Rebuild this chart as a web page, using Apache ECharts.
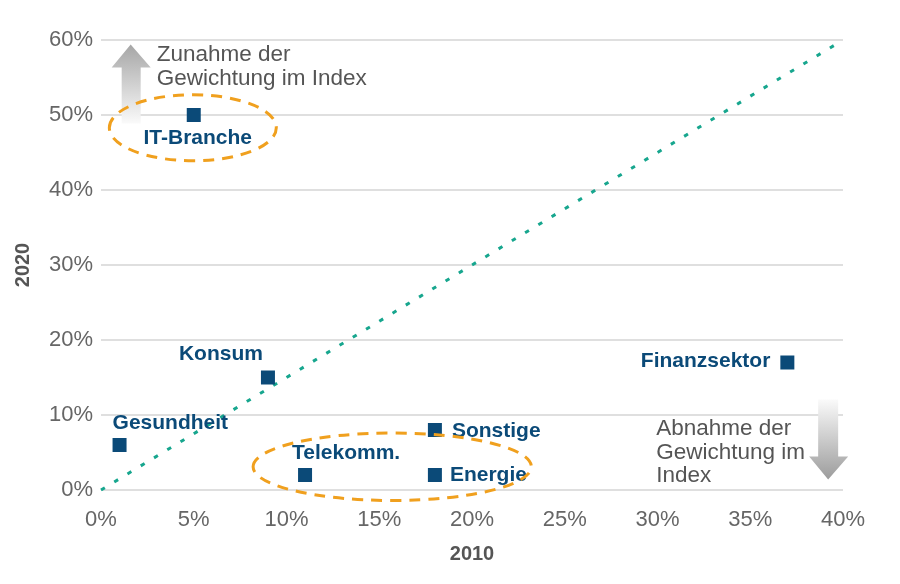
<!DOCTYPE html>
<html><head><meta charset="utf-8">
<script src="https://cdn.jsdelivr.net/npm/echarts@6/dist/echarts.min.js"></script>
<style>html,body{margin:0;padding:0;background:#fff}#c{width:900px;height:584px}</style>
</head><body><div id="c"></div>
<script>
// ---- data ----
const sectors = ['IT-Branche','Konsum','Gesundheit','Telekomm.','Sonstige','Energie','Finanzsektor'];
const share2010 = [5, 9, 1, 11, 18, 18, 37];
const share2020 = [50, 15, 6, 2, 8, 2, 17];
const xTicks = [0,5,10,15,20,25,30,35,40];
const yTicks = [0,10,20,30,40,50,60];
const diagonal = [[0,0],[40,60]];
const upNote = ['Zunahme der','Gewichtung im Index'];
const downNote = ['Abnahme der','Gewichtung im','Index'];

// ---- styling ----
const labelPlace = {
  'IT-Branche': {position:[11,30], align:'center', verticalAlign:'middle'},
  'Konsum': {position:[2,-16], align:'right', verticalAlign:'middle'},
  'Gesundheit': {position:[0,-15], align:'left', verticalAlign:'middle'},
  'Telekomm.': {position:[-6,-15], align:'left', verticalAlign:'middle'},
  'Sonstige': {position:[24,8], align:'left', verticalAlign:'middle'},
  'Energie': {position:[22,7], align:'left', verticalAlign:'middle'},
  'Finanzsektor': {position:[-10,6], align:'right', verticalAlign:'middle'}
};
const blue = '#0b4a78';
const chart = echarts.init(document.getElementById('c'));
const pts = sectors.map((n,i)=>({
  name:n, value:[share2010[i], share2020[i]],
  label:Object.assign({show:true, formatter:n}, labelPlace[n])
}));
const tickFont = {fontFamily:'Liberation Sans', fontSize:22, color:'#666'};
chart.setOption({
  animation:false,
  grid:{left:101, right:57, top:40, bottom:94, containLabel:false, outerBoundsMode:'none'},
  xAxis:{type:'value', min:xTicks[0], max:xTicks[xTicks.length-1], interval:5,
    name:'2010', nameLocation:'middle', nameGap:54,
    nameTextStyle:{fontFamily:'Liberation Sans', fontWeight:'bold', fontSize:20, color:'#555'},
    axisLine:{show:false}, axisTick:{show:false}, splitLine:{show:false},
    axisLabel:Object.assign({formatter:'{value}%', margin:19}, tickFont)},
  yAxis:{type:'value', min:yTicks[0], max:yTicks[yTicks.length-1], interval:10,
    name:'2020', nameLocation:'middle', nameGap:68, nameRotate:90,
    nameTextStyle:{fontFamily:'Liberation Sans', fontWeight:'bold', fontSize:20, color:'#555'},
    axisLine:{show:false}, axisTick:{show:false},
    splitLine:{lineStyle:{color:'#d4d4d4', width:1.5}},
    axisLabel:Object.assign({formatter:'{value}%', margin:8}, tickFont)},
  series:[
    {type:'line', data:diagonal, symbol:'none', silent:true,
      lineStyle:{color:'#17a68e', width:3, type:[4.5,11]}, z:1},
    {type:'scatter', data:pts, symbol:'rect', symbolSize:14,
      itemStyle:{color:blue, opacity:1}, z:3,
      label:{fontFamily:'Liberation Sans', fontWeight:'bold', fontSize:21, color:blue}}
  ]
});

function px(p){return chart.convertToPixel({gridIndex:0}, p);}
function ellipse(cx, cy, rxData, ryData){
  const c = px([cx,cy]);
  const e = px([cx+rxData, cy+ryData]);
  return {type:'ellipse', shape:{cx:c[0], cy:c[1], rx:e[0]-c[0], ry:c[1]-e[1]},
    style:{fill:null, stroke:'#f0a01e', lineWidth:3, lineDash:[11,8]}, z:10};
}
const grey = (top)=>({type:'linear', x:0,y:0,x2:0,y2:1, colorStops: top ?
  [{offset:0,color:'#a6a6a6'},{offset:1,color:'#fafafa'}] :
  [{offset:0,color:'#fafafa'},{offset:1,color:'#9c9c9c'}]});
const upTip = px([1.6, 59.4]);
const dnTip = px([39.2, 1.4]);
const noteStyle = {fontFamily:'Liberation Sans', fontSize:22.5, fill:'#555', lineHeight:23.5};
chart.setOption({graphic:[
  {type:'polygon', shape:{points:[
    [upTip[0],upTip[1]],[upTip[0]+20,upTip[1]+23],[upTip[0]+10,upTip[1]+23],[upTip[0]+10,upTip[1]+79],
    [upTip[0]-9,upTip[1]+79],[upTip[0]-9,upTip[1]+23],[upTip[0]-19,upTip[1]+23]]},
    style:{fill:grey(true)}, z:0},
  {type:'polygon', shape:{points:[
    [dnTip[0],dnTip[1]],[dnTip[0]+20,dnTip[1]-23],[dnTip[0]+10,dnTip[1]-23],[dnTip[0]+10,dnTip[1]-80],
    [dnTip[0]-10,dnTip[1]-80],[dnTip[0]-10,dnTip[1]-23],[dnTip[0]-19,dnTip[1]-23]]},
    style:{fill:grey(false)}, z:0},
  {type:'text', left:upTip[0]+26, top:upTip[1]-1, style:Object.assign({text:upNote.join('\n')}, noteStyle), z:5},
  {type:'text', left:dnTip[0]-172, top:dnTip[1]-62, style:Object.assign({text:downNote.join('\n')}, noteStyle), z:5},
  ellipse(4.95, 48.3, 4.5, 4.4),
  ellipse(15.7, 3.1, 7.5, 4.5)
]});
</script></body></html>
